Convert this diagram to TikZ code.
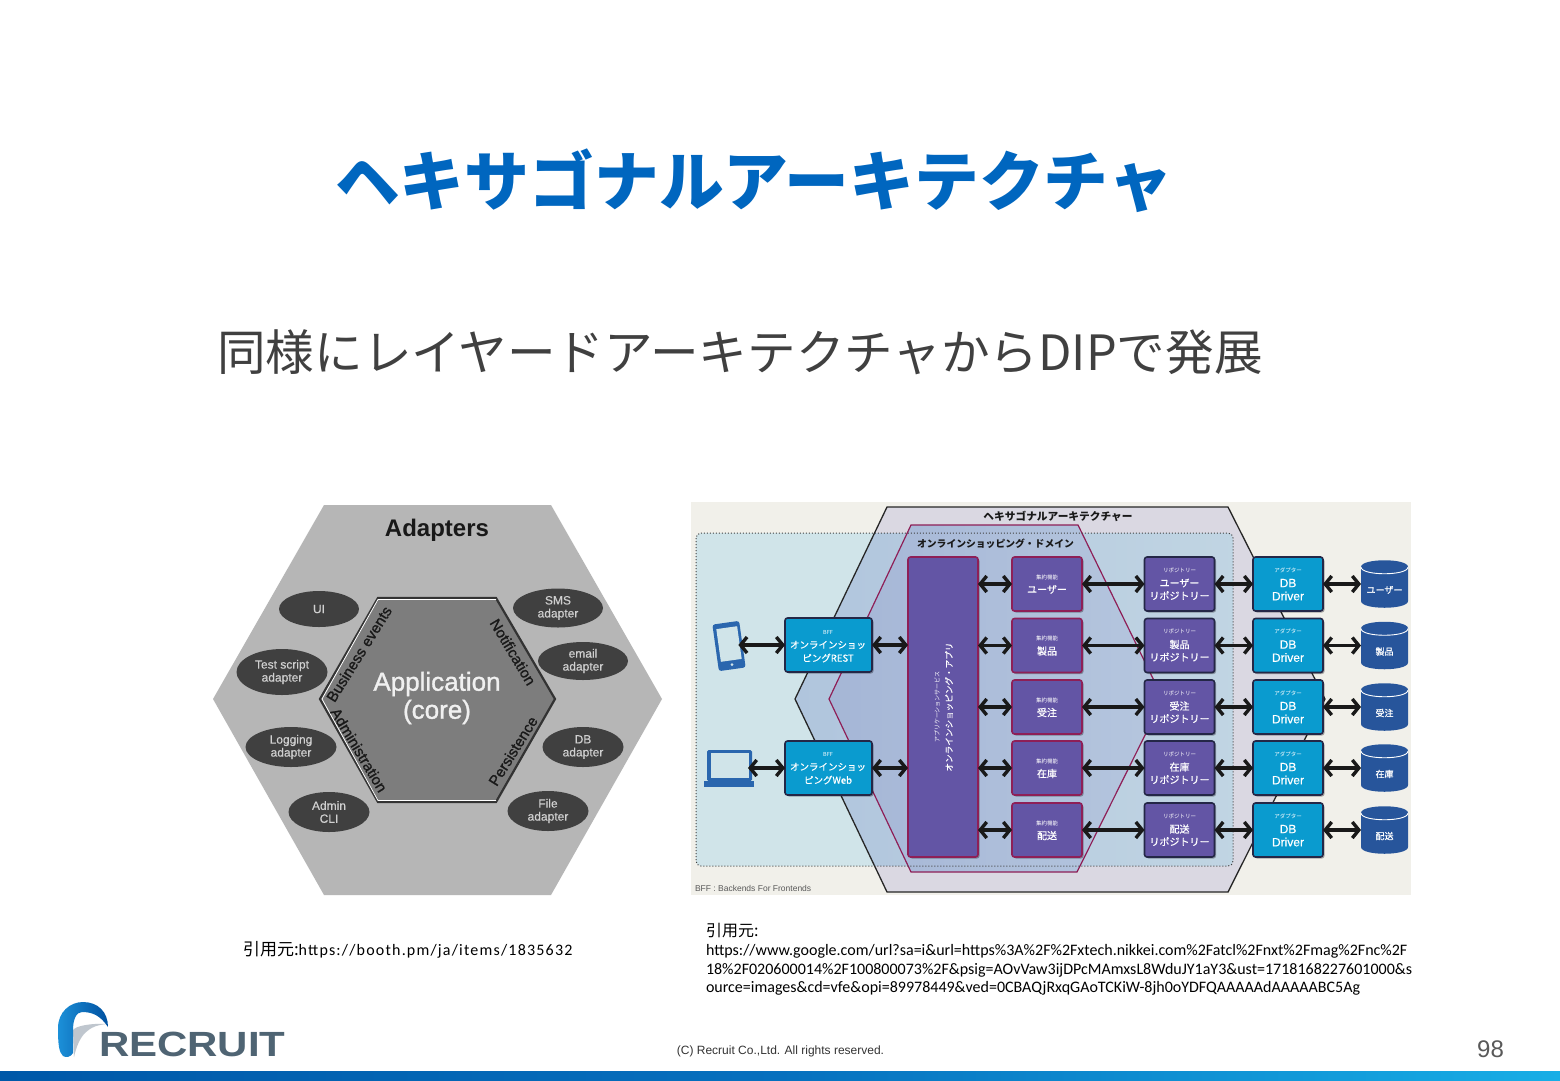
\documentclass[tikz,border=0pt]{standalone}
\usepackage{fontspec}
\usetikzlibrary{arrows.meta,shapes.geometric,shadows}
\setmainfont{Liberation Sans}
\newfontfamily\jp{Noto Sans CJK JP}
\newfontfamily\jpm[FakeBold=0.5]{Noto Sans CJK JP}
\newfontfamily\lsm[FakeBold=0.5]{Liberation Sans}
\newfontfamily\lsb[FakeBold=1.2]{Liberation Sans}
\newfontfamily\calfont{Carlito}
\newfontfamily\calwide[LetterSpace=7.5]{Carlito}
\newcommand{\fsz}[1]{\fontsize{#1}{#1}\selectfont}
\definecolor{titleblue}{HTML}{0066BF}
\definecolor{subgray}{HTML}{404040}
\definecolor{hexouter}{HTML}{B6B6B6}
\definecolor{hexinner}{HTML}{7D7D7D}
\definecolor{ovalgray}{HTML}{404040}
\definecolor{ovaltext}{HTML}{D0D0D0}
\definecolor{paper}{HTML}{F1F0EA}
\definecolor{paleblue}{HTML}{D0E4E9}
\definecolor{lav}{HTML}{DAD8E2}
\definecolor{crimson}{HTML}{8E1F57}
\definecolor{violet}{HTML}{6355A5}
\definecolor{cyanbox}{HTML}{0A9BCF}
\definecolor{navyline}{HTML}{242747}
\definecolor{dbblue}{HTML}{27559B}
\definecolor{devblue}{HTML}{2A66AE}
\definecolor{logotext}{HTML}{4F6473}
\definecolor{Bone}{HTML}{B0C5DD}
\definecolor{Btwo}{HTML}{C4D8E4}
\definecolor{Cone}{HTML}{A5B6D6}
\definecolor{Ctwo}{HTML}{B5C6DE}
\definecolor{logogray}{HTML}{BFC6CE}
\definecolor{logoA}{HTML}{1C90D8}
\definecolor{logoB}{HTML}{0050A0}
\definecolor{bandA}{HTML}{0058A8}
\definecolor{bandB}{HTML}{18AEE6}
\definecolor{bandC}{HTML}{0670BE}
\tikzset{
  every node/.style={inner sep=0pt,outer sep=0pt},
  oval/.style={ellipse,fill=ovalgray},
  ovaltxt/.style={text=ovaltext,align=center,font=\lsm\fontsize{12}{13}\selectfont},
  edgelab/.style={text=black!90,font=\lsb\fsz{15}},
  boxbase/.style={rounded corners=2.5pt,line width=1.6pt,minimum height=54pt,
     drop shadow={shadow xshift=1.5pt,shadow yshift=-1.5pt,fill=black,opacity=.3}},
  featbox/.style={boxbase,draw=crimson,fill=violet,minimum width=70pt},
  repobox/.style={boxbase,draw=navyline,fill=violet,minimum width=70pt},
  cyanrect/.style={boxbase,draw=navyline,fill=cyanbox},
  tiny/.style={text=white,font=\jp\fsz{5.5}},
  jpw/.style={text=white,font=\jpm\fsz{10}},
  biarrow/.style={line width=3.4pt,draw=black!90,
     arrows={Straight Barb[length=6.5pt,width=16pt]-Straight Barb[length=6.5pt,width=16pt]}},
  cite/.style={anchor=west,text=black,font=\calfont\fsz{16}},
}
\begin{document}
\begin{tikzpicture}[x=1pt,y=-1pt]
\useasboundingbox (0,0) rectangle (1560,1080);
\fill[white] (0,0) rectangle (1560,1080);
% headings
\node[text=titleblue,font=\jp\bfseries\fsz{64.8}] (title) at (754,181) {ヘキサゴナルアーキテクチャ};
\node[text=subgray,font=\jp\fsz{48.6}] (sub) at (740,352) {同様にレイヤードアーキテクチャからDIPで発展};
% left figure
\fill[hexouter] (324,505) -- (551,505) -- (662,699) -- (551,895) -- (324,895) -- (213,699) -- cycle;
\draw[fill=hexinner,draw=black!80,line width=2.2pt,line join=miter]
  (378,598) -- (496,598) -- (555,699) -- (496,802) -- (378,802) -- (320,699) -- cycle;
\draw[white,line width=.8pt] (496,599.5) -- (378,599.5) -- (322,699) -- (378,800.5) -- (496,800.5);
\node[font=\bfseries\fsz{24},text=black!90] (adapters) at (437,530) {Adapters};
\node[text=white!94!black,font=\lsb\fsz{26}] (app) at (437,684) {Application};
\node[text=white!94!black,font=\lsb\fsz{26}] (core) at (437,712) {(core)};
\node[edgelab,rotate=58] (be) at (359,654) {Business events};
\node[edgelab,rotate=-59] (noti) at (513,652) {Notification};
\node[edgelab,rotate=-59] (adm) at (359,750) {Administration};
\node[edgelab,rotate=58] (pers) at (513,751) {Persistence};
\node[oval,minimum width=80pt,minimum height=36pt] (o1) at (319,609) {};
\node[ovaltxt] (t1) at (o1) {UI};
\node[oval,minimum width=90pt,minimum height=39pt] (o2) at (558,608) {};
\node[ovaltxt] (t2) at (o2) {SMS\\adapter};
\node[oval,minimum width=90pt,minimum height=38pt] (o3) at (583,661) {};
\node[ovaltxt] (t3) at (o3) {email\\adapter};
\node[oval,minimum width=91pt,minimum height=46pt] (o4) at (282,672) {};
\node[ovaltxt] (t4) at (o4) {Test script\\adapter};
\node[oval,minimum width=91pt,minimum height=40pt] (o5) at (291,747) {};
\node[ovaltxt] (t5) at (o5) {Logging\\adapter};
\node[oval,minimum width=81pt,minimum height=40pt] (o6) at (583,747) {};
\node[ovaltxt] (t6) at (o6) {DB\\adapter};
\node[oval,minimum width=81pt,minimum height=40pt] (o7) at (329,812) {};
\node[ovaltxt] (t7) at (o7) {Admin\\CLI};
\node[oval,minimum width=81pt,minimum height=40pt] (o8) at (548,811) {};
\node[ovaltxt] (t8) at (o8) {File\\adapter};
% right figure background
\fill[paper] (691,502) rectangle (1411,895);
\fill[paleblue,rounded corners=5pt] (696,533) rectangle (1233,866);
\fill[lav] (887,507) -- (1228,507) -- (1325,699) -- (1228,892) -- (887,892) -- (795,699) -- cycle;
\begin{scope}
  \clip[rounded corners=5pt] (696,533) rectangle (1233,866);
  \shade[left color=Bone,right color=Btwo] (887,507) -- (1228,507) -- (1325,699) -- (1228,892) -- (887,892) -- (795,699) -- cycle;
\end{scope}
\draw[black!85,line width=1.3pt] (887,507) -- (1228,507) -- (1325,699) -- (1228,892) -- (887,892) -- (795,699) -- cycle;
\shade[left color=Cone,right color=Ctwo] (911,525) -- (1078,525) -- (1163,699) -- (1077,872) -- (911,872) -- (829,699) -- cycle;
\draw[crimson,line width=1.2pt] (911,525) -- (1078,525) -- (1163,699) -- (1077,872) -- (911,872) -- (829,699) -- cycle;
\draw[black!75,line width=1pt,dotted,rounded corners=5pt] (696,533) rectangle (1233,866);
\node[font=\jp\bfseries\fsz{10.7},text=black!90] (ht) at (1058,516) {ヘキサゴナルアーキテクチャー};
\node[font=\jp\bfseries\fsz{9.8},text=black!90] (dt) at (995.5,544) {オンラインショッピング・ドメイン};
\node[font=\fsz{8.5},text=black!65,anchor=west] (bfflab) at (695,888) {BFF : Backends For Frontends};
% devices
\node[rotate=8,fill=devblue,rounded corners=2.5pt,minimum width=27pt,minimum height=47pt] (phone) at (729,646) {};
\node[rotate=8,fill=paleblue,minimum width=21pt,minimum height=33pt] (phonescr) at (729,644) {};
\node[circle,fill=paleblue,minimum size=3pt] (phonebtn) at (732,664.5) {};
\node[fill=devblue,minimum width=45pt,minimum height=31pt,rounded corners=1.5pt] (lap) at (729.5,765.5) {};
\node[fill=paleblue,minimum width=38pt,minimum height=25pt] (lapscr) at (729.5,765) {};
\node[fill=devblue,minimum width=50pt,minimum height=6pt] (lapbase) at (729,784) {};
% boxes
\node[featbox,minimum width=70pt,minimum height=300pt] (main) at (943,707) {};
\node[text=white,rotate=90,font=\jpm\fsz{8.6}] (mainl) at (949,707) {オンラインショッピング・アプリ};
\node[text=white,rotate=90,font=\jp\fsz{6}] (mains) at (937,707) {アプリケーションサービス};
\node[cyanrect,minimum width=87pt,minimum height=54pt] (bff1) at (828.5,645) {};
\node[tiny] (bff1a) at (828,632) {BFF};
\node[jpw,font=\jpm\fsz{9.5}] (bff1b) at (828,645) {オンラインショッ};
\node[jpw,font=\jpm\fsz{9.5}] (bff1c) at (828,658) {ピングREST};
\node[cyanrect,minimum width=87pt,minimum height=54pt] (bff2) at (828.5,768) {};
\node[tiny] (bff2a) at (828,754) {BFF};
\node[jpw,font=\jpm\fsz{9.5}] (bff2b) at (828,767) {オンラインショッ};
\node[jpw,font=\jpm\fsz{9.5}] (bff2c) at (828,780) {ピングWeb};
\foreach \i/\yc/\nm in {1/584/ユーザー,2/645.5/製品,3/707/受注,4/768/在庫,5/830/配送}{
  \node[featbox] (feat\i) at (1047,\yc) {};
  \node[tiny] (feata\i) at (1047,\yc-7) {集約機能};
  \node[jpw] (featb\i) at (1047,\yc+5.5) {\nm};
  \node[repobox] (repo\i) at (1179.5,\yc) {};
  \node[tiny] (repoa\i) at (1179.5,\yc-14) {リポジトリー};
  \node[jpw] (repob\i) at (1179.5,\yc-1) {\nm};
  \node[jpw] (repoc\i) at (1179.5,\yc+11.5) {リポジトリー};
  \node[cyanrect,minimum width=70pt] (drv\i) at (1288,\yc) {};
  \node[tiny] (drva\i) at (1288,\yc-14) {アダプター};
  \node[text=white,font=\lsm\fsz{12}] (drvb\i) at (1288,\yc-1) {DB};
  \node[text=white,font=\lsm\fsz{12}] (drvc\i) at (1288,\yc+12) {Driver};
  \node[minimum width=47pt,minimum height=47pt] (db\i) at (1384.5,\yc) {};
  \fill[dbblue] (1361,\yc-17) -- (1361,\yc+17) .. controls (1361,\yc+26) and (1408,\yc+26) .. (1408,\yc+17)
      -- (1408,\yc-17) .. controls (1408,\yc-26) and (1361,\yc-26) .. (1361,\yc-17) -- cycle;
  \draw[white,line width=.9pt] (1361,\yc-17) .. controls (1361,\yc-8) and (1408,\yc-8) .. (1408,\yc-17);
  \node[jpw,font=\jpm\fsz{9}] (dbl\i) at (1384.5,\yc+6) {\nm};
  \draw[biarrow] (feat\i.west -| main.east) -- (feat\i.west);
  \draw[biarrow] (feat\i.east) -- (repo\i.west);
  \draw[biarrow] (repo\i.east) -- (drv\i.west);
  \draw[biarrow] (drv\i.east) -- (db\i.west);
}
\draw[biarrow,shorten <=-4pt] (bff1.west -| phone.east) -- (bff1.west);
\draw[biarrow,shorten <=-4pt] (bff2.west -| lap.east) -- (bff2.west);
\draw[biarrow] (bff1.east) -- (bff1.east -| main.west);
\draw[biarrow] (bff2.east) -- (bff2.east -| main.west);
% citations
\node[cite] (c1) at (243,950) {{\jp\fsz{17}引用元:}{\calwide\fsz{16}https://booth.pm/ja/items/1835632}};
\node[cite] (c2a) at (706,931) {{\jp\fsz{16}引用元:}};
\node[cite] (c2b) at (706,951) {https://www.google.com/url?sa=i\&url=https\%3A\%2F\%2Fxtech.nikkei.com\%2Fatcl\%2Fnxt\%2Fmag\%2Fnc\%2F};
\node[cite] (c2c) at (706,970) {18\%2F020600014\%2F100800073\%2F\&psig=AOvVaw3ijDPcMAmxsL8WduJY1aY3\&ust=1718168227601000\&s};
\node[cite] (c2d) at (706,988) {ource=images\&cd=vfe\&opi=89978449\&ved=0CBAQjRxqGAoTCKiW-8jh0oYDFQAAAAAdAAAAABC5Ag};
% logo
\fill[logogray] (108,1024) .. controls (88,1025) and (79,1035) .. (74,1057) -- (73,1030) .. controls (76,1026) and (90,1023) .. (108,1024) -- cycle;
\shade[left color=logoA,right color=logoB]
  (63,1056) .. controls (59,1052) and (58,1045) .. (58,1028)
  .. controls (58,1012) and (70,1002) .. (83,1002)
  .. controls (98,1002) and (108,1012) .. (108,1027)
  .. controls (100,1015) and (92,1012) .. (82,1012)
  .. controls (76,1012) and (73,1020) .. (73,1030)
  -- (73,1053) .. controls (71,1057) and (66,1058) .. (63,1056) -- cycle;
\node[font=\bfseries\fsz{35},text=logotext,xscale=1.2,anchor=base west] (logo) at (99,1056) {RECRUIT};
% footer
\node[font=\fsz{12},text=black!80] (copy) at (780.5,1051) {(C) Recruit Co.,Ltd. All rights reserved.};
\node[font=\fsz{24},text=black!65] (page) at (1490.5,1049) {98};
\shade[left color=bandA,right color=bandB,middle color=bandC] (0,1071) rectangle (1560,1080);
\end{tikzpicture}
\end{document}
